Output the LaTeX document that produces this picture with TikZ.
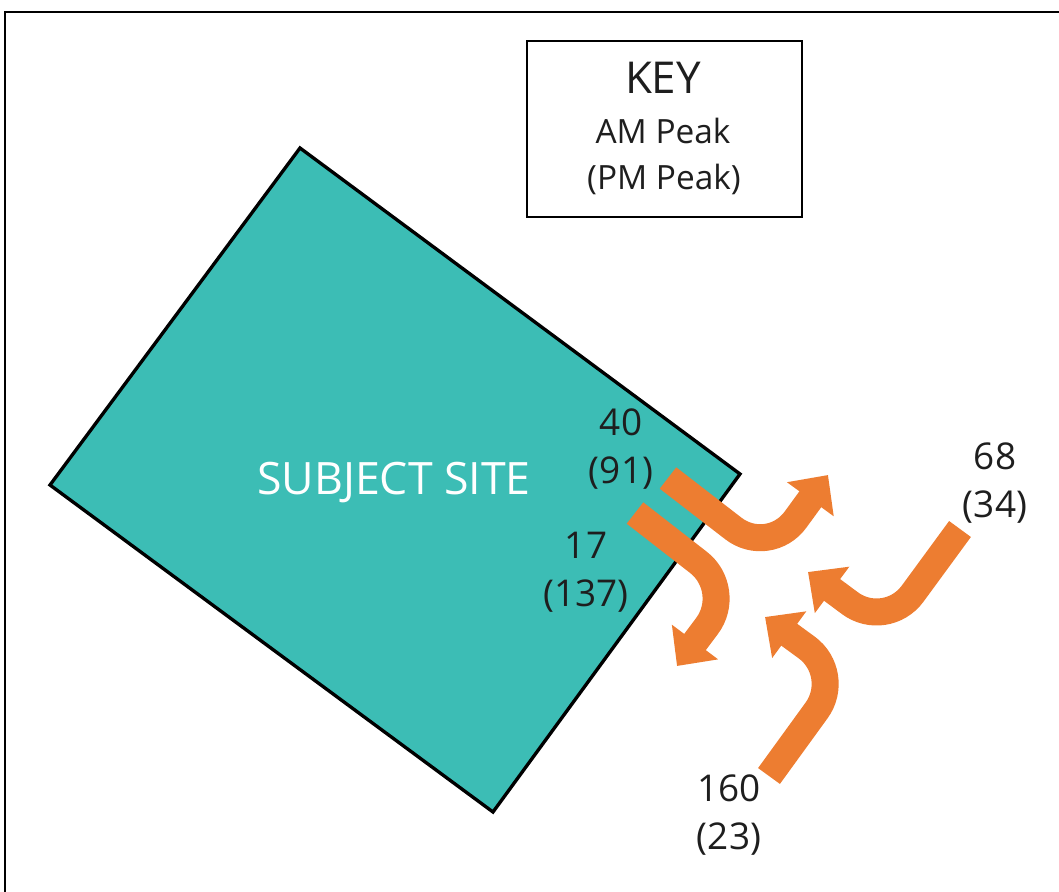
\documentclass[tikz,border=0pt]{standalone}
\usepackage{fontspec}
\setmainfont{Open Sans}
\usetikzlibrary{arrows.meta}

\definecolor{siteteal}{RGB}{60,189,181}
\definecolor{floworange}{RGB}{237,125,49}
\definecolor{labelgrey}{RGB}{30,30,30}

\begin{document}
\begin{tikzpicture}[
    flow/.style={draw=floworange, line width=0.27cm, rounded corners=0.45cm,
      -{Triangle[length=0.30cm, width=0.56cm]}},
    count/.style={align=center, text=labelgrey, inner sep=0pt,
      font=\fontsize{10.5}{13.7}\selectfont},
    keytext/.style={text=labelgrey, inner sep=0pt},
  ]
    \useasboundingbox (0,0) rectangle (10.59,-8.92);

    % 1. Define Coordinates
    % corners of the site (rotated box)
    \coordinate (T) at (3.00,-1.48);
    \coordinate (R) at (7.40,-4.74);
    \coordinate (B) at (4.93,-8.12);
    \coordinate (L) at (0.50,-4.85);

    % outer frame, only its top and left edges show
    \coordinate (F1) at (0.05,-8.92);
    \coordinate (F2) at (0.05,-0.12);
    \coordinate (F3) at (10.59,-0.12);

    % 2. Draw the Frame and the Site
    \draw[line width=0.8pt] (F1) -- (F2) -- (F3);
    \draw[fill=siteteal, line width=0.95pt] (T) -- (R) -- (B) -- (L) -- cycle;
    \node[text=white, font=\fontsize{12.7}{15}\selectfont] (site) at (3.94,-4.83) {SUBJECT SITE};

    % 3. Key Box
    \node[draw, line width=0.6pt, minimum width=2.75cm, minimum height=1.76cm] (key) at (6.645,-1.29) {};
    \node[keytext, font=\fontsize{12.5}{15}\selectfont] (keyhead) at (6.63,-0.775) {KEY};
    \node[keytext, font=\fontsize{9.5}{12}\selectfont] (keyam) at (6.63,-1.31) {AM Peak};
    \node[keytext, font=\fontsize{9.5}{12}\selectfont] (keypm) at (6.64,-1.79) {(PM Peak)};

    % 4. Flow Arrows (start, bend, tip)
    % out of the site, turning north-east
    \coordinate (A0) at (6.68,-4.78);
    \coordinate (A1) at (7.69,-5.56);
    \coordinate (A2) at (8.28,-4.75);
    % out of the site, turning south-west
    \coordinate (B0) at (6.35,-5.13);
    \coordinate (B1) at (7.34,-5.90);
    \coordinate (B2) at (6.77,-6.66);
    % from the north-east into the site
    \coordinate (C0) at (9.60,-5.29);
    \coordinate (C1) at (8.86,-6.30);
    \coordinate (C2) at (8.08,-5.72);
    % from the south into the site
    \coordinate (D0) at (7.69,-7.76);
    \coordinate (D1) at (8.43,-6.74);
    \coordinate (D2) at (7.65,-6.17);

    \draw[flow] (A0) -- (A1) -- (A2);
    \draw[flow] (B0) -- (B1) -- (B2);
    \draw[flow] (C0) -- (C1) -- (C2);
    \draw[flow] (D0) -- (D1) -- (D2);

    % 5. Add Flow Labels
    \node[count] (lblA) at (6.21,-4.49) {40\\(91)};
    \node[count] (lblB) at (5.86,-5.72) {17\\(137)};
    \node[count] (lblC) at (9.95,-4.83) {68\\(34)};
    \node[count] (lblD) at (7.29,-8.15) {160\\(23)};

\end{tikzpicture}
\end{document}
